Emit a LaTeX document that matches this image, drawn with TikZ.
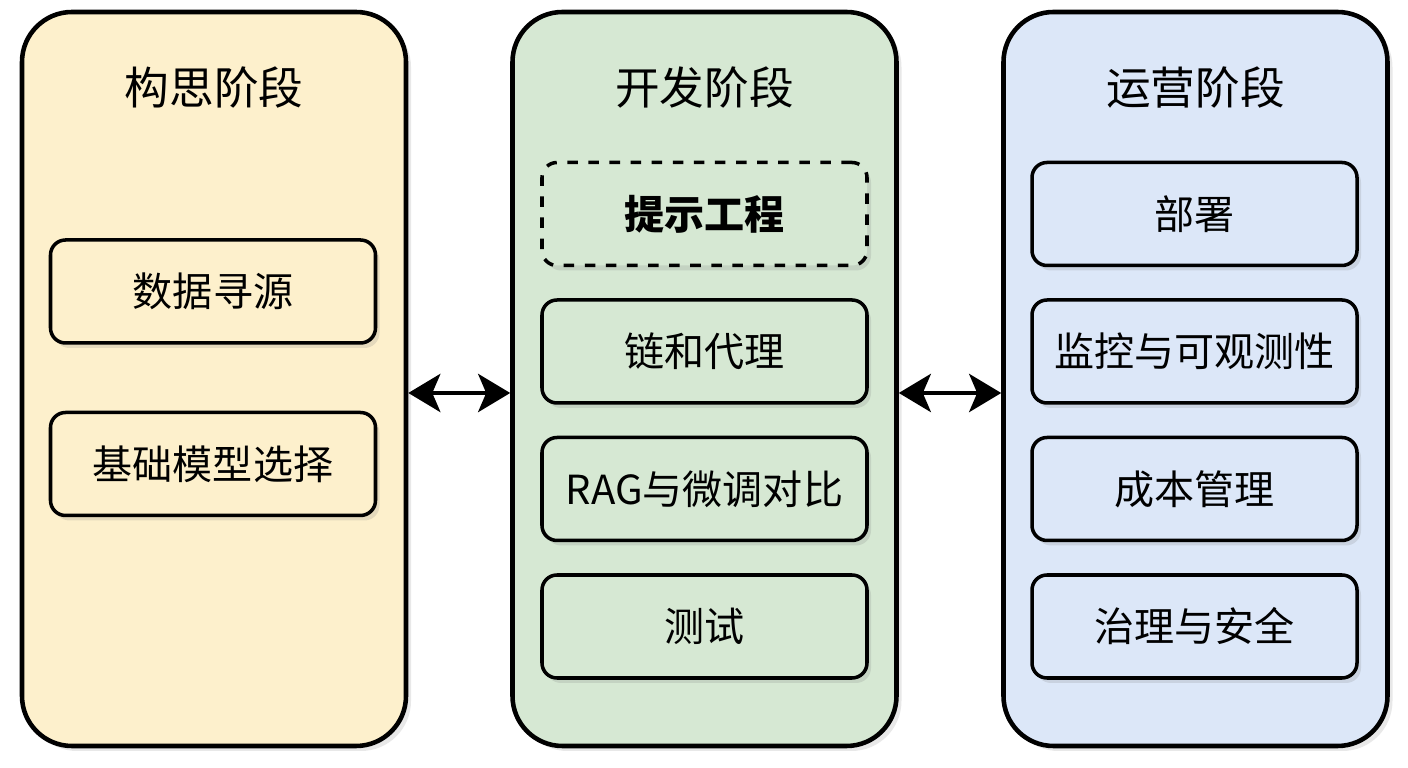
\documentclass[tikz,border=0pt]{standalone}
\usepackage{fontspec}
\setmainfont{Noto Sans CJK SC}
\usepackage{xcolor}
\usetikzlibrary{arrows.meta,positioning,calc,shadows}
\definecolor{ideayellow}{HTML}{FDF0CC}
\definecolor{devgreen}{HTML}{D6E8D3}
\definecolor{opsblue}{HTML}{DCE7F8}

\begin{document}
\begin{tikzpicture}[
  >={Stealth[length=0.32cm,width=0.38cm,inset=0.08cm]},
  phase/.style={draw,line width=1.3pt,rounded corners=0.5cm,minimum width=3.84cm,
    minimum height=7.34cm,drop shadow={opacity=0.18,shadow xshift=0.05cm,shadow yshift=-0.05cm}},
  title/.style={font=\fontsize{12.7}{15}\selectfont},
  task/.style={draw,line width=1pt,rounded corners=0.15cm,minimum width=3.25cm,
    minimum height=1.03cm,align=center,font=\fontsize{11.4}{14}\selectfont,
    drop shadow={opacity=0.2,shadow xshift=0.04cm,shadow yshift=-0.05cm}},
  link/.style={<->,line width=1.4pt}
]
  \useasboundingbox (0,0) rectangle (14.08,7.68);

  \node[phase,fill=ideayellow] (ideate) at (2.14,3.89) {};
  \node[phase,fill=devgreen] (develop) at (7.045,3.89) {};
  \node[phase,fill=opsblue] (operate) at (11.955,3.89) {};

  \node[title] (ideatetitle) at (2.14,6.80) {构思阶段};
  \node[title] (developtitle) at (7.045,6.80) {开发阶段};
  \node[title] (operatetitle) at (11.955,6.80) {运营阶段};

  \node[task,fill=ideayellow] (sourcing) at (2.13,4.765) {数据寻源};
  \node[task,fill=ideayellow] (modelsel) at (2.13,3.04) {基础模型选择};

  \node[task,fill=devgreen,dashed,font=\fontsize{11.4}{14}\selectfont\bfseries] (prompt) at (7.045,5.54) {提示工程};
  \node[task,fill=devgreen] (chains) at (7.045,4.165) {链和代理};
  \node[task,fill=devgreen] (ragft) at (7.045,2.79) {RAG与微调对比};
  \node[task,fill=devgreen] (testing) at (7.045,1.415) {测试};

  \node[task,fill=opsblue] (deploy) at (11.945,5.54) {部署};
  \node[task,fill=opsblue] (monitor) at (11.945,4.165) {监控与可观测性};
  \node[task,fill=opsblue] (cost) at (11.945,2.79) {成本管理};
  \node[task,fill=opsblue] (govern) at (11.945,1.415) {治理与安全};

  \draw[link] ([yshift=-0.14cm]ideate.east) -- ([yshift=-0.14cm]develop.west);
  \draw[link] ([yshift=-0.14cm]develop.east) -- ([yshift=-0.14cm]operate.west);
\end{tikzpicture}
\end{document}
